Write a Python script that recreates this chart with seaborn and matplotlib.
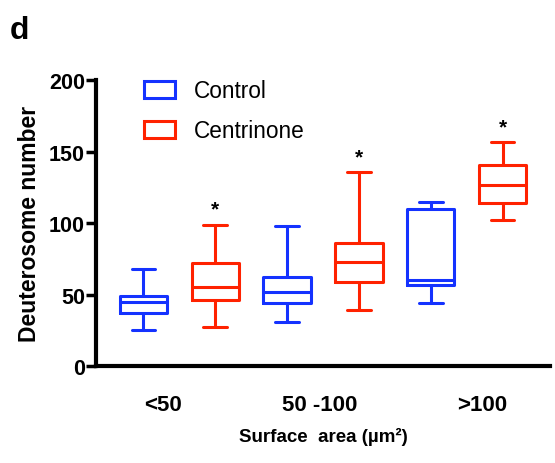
import numpy as np
import pandas as pd
import matplotlib
matplotlib.use("Agg")
import matplotlib.pyplot as plt
import matplotlib.transforms as mtransforms
from matplotlib.patches import Patch
import seaborn as sns

# ---- data (five-number summaries: min, Q1, median, Q3, max)
categories = ["<50", "50 -100", ">100"]
groups = ["Control", "Centrinone"]
control_stats = [
    [25, 37, 45, 49, 68],
    [31, 44, 52, 62, 98],
    [44, 57, 60, 110, 115],
]
centrinone_stats = [
    [27, 46, 55, 72, 99],
    [39, 59, 73, 86, 136],
    [102, 114, 127, 141, 157],
]
significant = [True, True, True]  # asterisks above Centrinone
yticks = [0, 50, 100, 150, 200]

colors = {"Control": "#1432FF", "Centrinone": "#FF2200"}

rows = []
for cat, cs, ts in zip(categories, control_stats, centrinone_stats):
    for v in cs:
        rows.append({"area": cat, "group": "Control", "value": v})
    for v in ts:
        rows.append({"area": cat, "group": "Centrinone", "value": v})
df = pd.DataFrame(rows)

sns.set_theme(style="ticks")
plt.rcParams["font.family"] = ["Liberation Sans", "DejaVu Sans"]
for k in ["text.color", "axes.labelcolor", "xtick.color", "ytick.color", "axes.edgecolor"]:
    plt.rcParams[k] = "black"

fig = plt.figure(figsize=(5.55, 4.64), dpi=100)
ax = fig.add_axes([0.173, 0.209, 0.818, 0.616])

lw = 2.2
sns.boxplot(data=df, x="area", y="value", hue="group", order=categories,
            hue_order=groups, palette=colors, fill=False, width=1.0, gap=0.34,
            whis=(0, 100), linewidth=lw, showfliers=False, legend=False, ax=ax)

ax.set_ylim(0, 200)
ax.set_xlim(-0.58, 2.58)
ax.set_yticks(yticks)
ax.set_yticklabels([str(t) for t in yticks], fontsize=15.5, fontweight="bold")
ax.set_xticks(range(len(categories)))
ax.set_xticklabels(categories, fontsize=16, fontweight="bold")
ax.tick_params(axis="x", length=0, pad=20)
ax.tick_params(axis="y", length=7, width=2.5, pad=1, color="black")

# small horizontal nudges of the x tick labels as in the original layout
label_shift_px = [-16, -3, 16]
for lab, dx in zip(ax.get_xticklabels(), label_shift_px):
    lab.set_transform(lab.get_transform() +
                      mtransforms.ScaledTranslation(dx / 100, 0, fig.dpi_scale_trans))

for s in ["top", "right"]:
    ax.spines[s].set_visible(False)
for s in ["left", "bottom"]:
    ax.spines[s].set_linewidth(3)
    ax.spines[s].set_color("black")

ax.set_ylabel("Deuterosome number", fontsize=16.5, fontweight="bold", labelpad=6)
ax.set_xlabel("Surface  area (µm²)", fontsize=13.5, fontweight="bold", labelpad=9)

# asterisks
for i, (sig, ts) in enumerate(zip(significant, centrinone_stats)):
    if sig:
        ax.text(i + 0.25, ts[-1] + 4, "*", ha="center", va="bottom",
                fontsize=15, fontweight="bold", color="black")

handles = [Patch(facecolor="none", edgecolor=colors[g], linewidth=lw, label=g)
           for g in groups]
ax.legend(handles=handles, loc="upper left", bbox_to_anchor=(0.06, 1.075),
          frameon=False, fontsize=16.3, handlelength=1.4, handleheight=0.75,
          handletextpad=0.8, labelspacing=0.75)

fig.text(0.018, 0.9, "d", fontsize=23, fontweight="bold", ha="left", va="bottom")

fig.savefig("out.png", dpi=100)
